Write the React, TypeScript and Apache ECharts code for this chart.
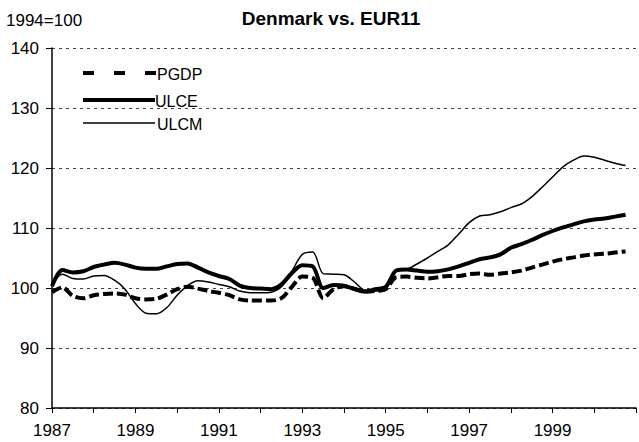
import React, { useEffect, useRef } from "react";
import * as echarts from "echarts";

const startYear = 1987;
const endYear = 2001;
const seriesNames = ["PGDP", "ULCE", "ULCM"];
const xLabelYears = [1987, 1989, 1991, 1993, 1995, 1997, 1999];
const yMin = 80;
const yMax = 140;
const yStep = 10;

// quarterly values, 1987Q1 .. 2000Q4
const pgdp = [
  99.3, 100.1, 98.7, 98.3, 98.8, 99.0, 99.1, 98.9,
  98.3, 98.1, 98.2, 98.9, 99.8, 100.2, 99.9, 99.5,
  99.2, 98.8, 98.1, 97.9, 97.9, 97.9, 98.3, 100.2,
  101.9, 101.7, 98.3, 99.8, 100.3, 99.9, 99.4, 99.5,
  99.8, 101.8, 101.9, 101.7, 101.6, 101.8, 102.0, 102.0,
  102.3, 102.4, 102.2, 102.4, 102.6, 102.9, 103.4, 103.9,
  104.4, 104.8, 105.1, 105.4, 105.6, 105.7, 105.9, 106.1,
];
const ulce = [
  100.3, 103.0, 102.6, 102.8, 103.5, 103.9, 104.2, 103.9,
  103.4, 103.2, 103.2, 103.6, 104.0, 104.1, 103.4, 102.6,
  102.0, 101.5, 100.4, 100.0, 99.9, 99.8, 100.6, 102.5,
  103.8, 103.6, 100.0, 100.5, 100.4, 99.8, 99.4, 99.8,
  100.2, 102.9, 103.1, 102.9, 102.7, 102.8, 103.1, 103.6,
  104.2, 104.8, 105.1, 105.6, 106.7, 107.3, 108.0, 108.8,
  109.5, 110.1, 110.6, 111.1, 111.4, 111.6, 111.9, 112.2,
];
const ulcm = [
  100.8, 102.3, 101.6, 101.5, 102.0, 102.1, 101.3, 99.8,
  97.4, 95.8, 95.7, 96.7, 98.8, 100.4, 101.2, 101.0,
  100.6, 100.2, 99.5, 99.2, 99.2, 99.3, 100.2, 102.8,
  105.6, 106.0, 102.4, 102.3, 102.2, 101.0, 99.6, 99.5,
  99.8, 102.9, 103.1, 104.0, 105.0, 106.1, 107.2, 109.0,
  110.9, 112.0, 112.2, 112.7, 113.4, 114.0, 115.2, 116.8,
  118.5, 120.2, 121.3, 122.0, 121.8, 121.3, 120.8, 120.4,
];

const toPoints = (vals: number[]) => vals.map((v, i) => [startYear + i / 4, v]);

const FONT = "'Liberation Sans', Arial, sans-serif";

export default function App() {
  const ref = useRef<HTMLDivElement>(null);
  useEffect(() => {
    const chart = echarts.init(ref.current!, null, { renderer: "svg" });
    chart.setOption({
      animation: false,
      backgroundColor: "#ffffff",
      title: {
        text: "Denmark vs. EUR11",
        left: 326,
        top: 4,
        textAlign: "center",
        textStyle: { fontFamily: FONT, fontWeight: "bold", fontSize: 19, color: "#000" },
      },
      grid: { left: 52, top: 48, width: 588, height: 360 },
      xAxis: {
        type: "value",
        min: startYear,
        max: endYear,
        interval: 1,
        axisLine: { lineStyle: { color: "#000", width: 1.5 } },
        axisTick: { show: true, length: 5, lineStyle: { color: "#000", width: 1 } },
        axisLabel: {
          formatter: (v: number) => (xLabelYears.includes(Math.round(v)) ? String(Math.round(v)) : ""),
          fontSize: 17,
          color: "#000",
          margin: 14,
          fontFamily: FONT,
        },
        splitLine: { show: false },
      },
      yAxis: {
        type: "value",
        min: yMin,
        max: yMax,
        interval: yStep,
        axisLine: { show: true, lineStyle: { color: "#000", width: 1.5 } },
        axisTick: { show: true, length: 6, lineStyle: { color: "#000", width: 1 } },
        axisLabel: { fontSize: 17, color: "#000", margin: 13, fontFamily: FONT },
        splitLine: { show: true, lineStyle: { color: "#444", type: [3, 4], width: 1 } },
      },
      series: [
        {
          name: seriesNames[0],
          type: "line",
          data: toPoints(pgdp),
          showSymbol: false,
          smooth: 0.3,
          lineStyle: { color: "#000", width: 4, type: [10, 4], cap: "butt" },
          z: 3,
        },
        {
          name: seriesNames[1],
          type: "line",
          data: toPoints(ulce),
          showSymbol: false,
          smooth: 0.3,
          lineStyle: { color: "#000", width: 4 },
          z: 4,
        },
        {
          name: seriesNames[2],
          type: "line",
          data: toPoints(ulcm),
          showSymbol: false,
          smooth: 0.3,
          lineStyle: { color: "#000", width: 1.5 },
          z: 5,
        },
      ],
      graphic: [
        {
          type: "text",
          left: 6,
          top: 12,
          style: { text: "1994=100", fontSize: 17, fontFamily: FONT, fill: "#000" },
        },
        {
          type: "line",
          shape: { x1: 83, y1: 73, x2: 156, y2: 73 },
          style: { stroke: "#000", lineWidth: 4, lineDash: [11, 20] },
        },
        {
          type: "line",
          shape: { x1: 83, y1: 100, x2: 155, y2: 100 },
          style: { stroke: "#000", lineWidth: 4 },
        },
        {
          type: "line",
          shape: { x1: 83, y1: 123, x2: 155, y2: 123 },
          style: { stroke: "#000", lineWidth: 1.5 },
        },
        {
          type: "text",
          x: 157,
          y: 74,
          style: { text: seriesNames[0], fontSize: 16, fontFamily: FONT, fill: "#000", verticalAlign: "middle" },
        },
        {
          type: "text",
          x: 155,
          y: 101,
          style: { text: seriesNames[1], fontSize: 16, fontFamily: FONT, fill: "#000", verticalAlign: "middle" },
        },
        {
          type: "text",
          x: 157,
          y: 124,
          style: { text: seriesNames[2], fontSize: 16, fontFamily: FONT, fill: "#000", verticalAlign: "middle" },
        },
      ],
    });
    return () => chart.dispose();
  }, []);
  return (
    <div
      ref={ref}
      style={{ position: "absolute", left: 0, top: 0, width: 639, height: 442, background: "#fff" }}
    />
  );
}
